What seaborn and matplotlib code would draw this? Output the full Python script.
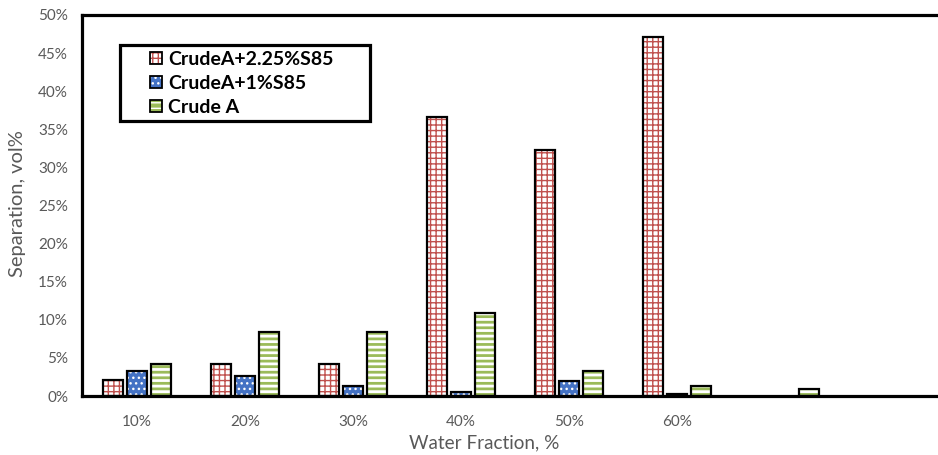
import numpy as np
import pandas as pd
import matplotlib
matplotlib.use("Agg")
import matplotlib.pyplot as plt
import seaborn as sns
from matplotlib.patches import Rectangle, Patch
from matplotlib.legend_handler import HandlerTuple
from matplotlib.ticker import PercentFormatter, MultipleLocator

# ---------------- data ----------------
categories = ["10%", "20%", "30%", "40%", "50%", "60%", ""]
series = ["CrudeA+2.25%S85", "CrudeA+1%S85", "Crude A"]
crude_225 = [2.1, 4.2, 4.2, 36.6, 32.3, 47.1, np.nan]
crude_1 = [3.3, 2.6, 1.35, 0.5, 2.0, 0.2, np.nan]
crude_a = [4.2, 8.4, 8.4, 10.9, 3.3, 1.35, 0.95]

rows = []
for name, vals in zip(series, [crude_225, crude_1, crude_a]):
    for c, v in zip(categories, vals):
        if not np.isnan(v):
            rows.append({"cat": c, "val": v, "series": name})
df = pd.DataFrame(rows)

# ---------------- style ----------------
sns.set_theme(style="white")
plt.rcParams["font.family"] = ["Lato", "DejaVu Sans"]
gray = "#595959"
red = "#C0504D"
blue = "#4472C4"
green = "#9BBB59"

# face, hatch, hatch color, hatch lw
styles = {
    "CrudeA+2.25%S85": ("white", "+++", red, 1.0),
    "CrudeA+1%S85": (blue, "...", "white", 1.0),
    "Crude A": (green, "---", "white", 2.0),
}

fig = plt.figure(figsize=(9.38, 4.55), dpi=100)
W, H = 938, 455
ax = fig.add_axes([82 / W, 1 - 396 / H, (938 - 82) / W, (396 - 15) / H])

sns.barplot(data=df, x="cat", y="val", hue="series", order=categories,
            hue_order=series, width=0.667, gap=0.2, errorbar=None,
            palette=[red, blue, green], legend=False, ax=ax)

for name, cont in zip(series, ax.containers):
    face, hatch, hcol, hlw = styles[name]
    for p in cont.patches:
        if np.isnan(p.get_height()):
            continue
        p.set_facecolor(face)
        p.set_edgecolor(hcol)
        p.set_hatch(hatch)
        p.set_linewidth(0)
        if hasattr(p, "set_hatch_linewidth"):
            p.set_hatch_linewidth(hlw)
        ax.add_patch(Rectangle((p.get_x(), p.get_y()), p.get_width(), p.get_height(),
                               fill=False, edgecolor="black", linewidth=1.6, zorder=3))

ax.set_ylim(0, 50)
ax.set_xlim(-0.51, -0.51 + 856 / 108)
ax.yaxis.set_major_locator(MultipleLocator(5))
ax.yaxis.set_major_formatter(PercentFormatter(xmax=100, decimals=0))
ax.tick_params(axis="both", length=0, colors=gray, labelsize=11)
ax.tick_params(axis="y", pad=10)
ax.tick_params(axis="x", pad=14)
for lab in ax.get_xticklabels() + ax.get_yticklabels():
    lab.set_color(gray)

ax.set_xlabel("Water Fraction, %", color=gray, fontsize=13.6)
ax.xaxis.set_label_coords((484 - 82) / 856, -(443 - 396) / 381)
ax.xaxis.label.set_va("center")
ax.set_ylabel("Separation, vol%", color=gray, fontsize=14.5)
ax.yaxis.set_label_coords(-(82 - 18) / 856, (396 - 204) / 381)
ax.yaxis.label.set_va("center")

for s in ["left", "top", "bottom"]:
    ax.spines[s].set_visible(True)
    ax.spines[s].set_color("black")
    ax.spines[s].set_linewidth(2.3)
ax.spines["right"].set_visible(False)

# legend: hatched swatch + black outline
handles = []
for name in series:
    face, hatch, hcol, hlw = styles[name]
    hp = Patch(facecolor=face, edgecolor=hcol, hatch=hatch, linewidth=0)
    op = Patch(fill=False, edgecolor="black", linewidth=1.3)
    handles.append((hp, op))
leg = ax.legend(handles, series, loc="upper left",
                bbox_to_anchor=(150 / W, 1 - 51 / H),
                bbox_transform=fig.transFigure,
                borderaxespad=0, frameon=False,
                handler_map={tuple: HandlerTuple(ndivide=1, pad=0)},
                prop={"weight": "bold", "size": 14},
                handlelength=0.6, handleheight=0.6, handletextpad=0.35,
                labelspacing=0.35, borderpad=0)
for t in leg.get_texts():
    t.set_color("black")

frame = Rectangle((120 / W, 1 - 121 / H), 250 / W, 76 / H, transform=fig.transFigure,
                  fill=False, edgecolor="black", linewidth=2.3, zorder=5)
fig.add_artist(frame)

fig.savefig("out.png", dpi=100)
